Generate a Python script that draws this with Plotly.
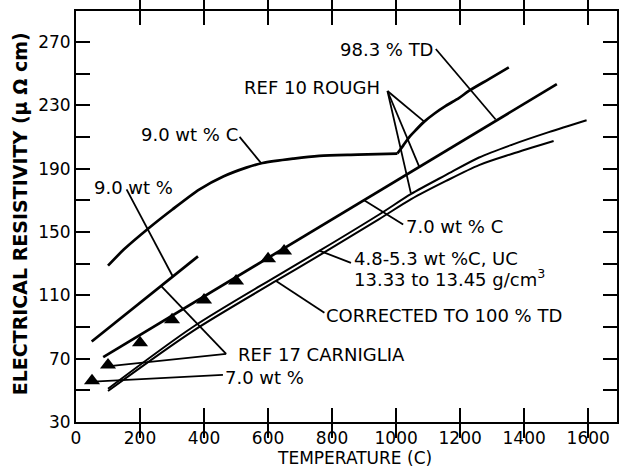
import plotly.graph_objects as go

# ---------------- data ----------------
# 9.0 wt % C curve
t_c90 = [100, 150, 225, 300, 386, 460, 532, 583, 680, 760, 880, 1004]
r_c90 = [128.7, 139, 152, 164, 176.9, 185, 190.6, 193.5, 196.3, 198, 198.8, 199.5]
# continuation above ~1000 C (REF 10 rough)
t_ref10 = [1004, 1022, 1040, 1060, 1087, 1120, 1155, 1196, 1227, 1290, 1352]
r_ref10 = [199.5, 204.5, 209.6, 214, 219.5, 224.8, 229.6, 234.5, 239, 246.5, 253.9]
# 9.0 wt % (REF 17)
t_w90 = [49, 381]
r_w90 = [80.8, 134.6]
# 7.0 wt % C, 98.3 % TD
t_c70 = [85, 1502]
r_c70 = [71, 243.3]
# REF 17 Carniglia, triangles
t_tri = [50, 100, 200, 300, 400, 500, 600, 650]
r_tri = [56, 66, 80, 94.6, 107, 119, 133, 138]
# 4.8-5.3 wt % C, UC
t_uc = [100, 365, 626, 760, 947, 1047, 1156, 1259, 1361, 1477, 1595]
r_uc = [51, 90, 122, 138, 161, 174, 186, 197, 205, 213, 220.5]
# corrected to 100 % TD
t_corr = [100, 365, 626, 760, 947, 1047, 1156, 1259, 1361, 1492]
r_corr = [49.6, 87.4, 119.2, 135.2, 158.1, 170.7, 182.2, 192.2, 199.2, 207.4]

x_ticks = [0, 200, 400, 600, 800, 1000, 1200, 1400, 1600]
y_ticks = [30, 70, 110, 150, 190, 230, 270]
y_right_ticks = [50, 70, 90, 110, 130, 150, 170, 190, 210, 230, 250, 270]

FONT = "DejaVu Sans"
INK = "black"

fig = go.Figure()

def curve(t, r, w=2.7, shape="spline"):
    fig.add_trace(go.Scatter(x=t, y=r, mode="lines", line=dict(color=INK, width=w, shape=shape, smoothing=0.8),
                             showlegend=False, hoverinfo="skip"))

curve(t_c90, r_c90)
curve(t_ref10, r_ref10)
curve(t_w90, r_w90, shape="linear")
curve(t_c70, r_c70, shape="linear")
curve(t_uc, r_uc, w=2.0)
curve(t_corr, r_corr, w=2.0)
fig.add_trace(go.Scatter(x=t_tri, y=r_tri, mode="markers",
                         marker=dict(symbol="triangle-up", size=14, color=INK),
                         showlegend=False, hoverinfo="skip"))
# invisible trace to carry the right-hand tick axis
fig.add_trace(go.Scatter(x=[t_c70[0]], y=[r_c70[0]], yaxis="y2", mode="markers",
                         marker=dict(opacity=0), showlegend=False, hoverinfo="skip"))

# leader lines (annotation geometry)
leaders = [
    ((1124, 265.5), (1311, 221)),      # 98.3 % TD
    ((973, 239), (1087, 219.8)),       # REF 10 rough
    ((973, 239), (1072, 191.2)),
    ((973, 239), (1046, 174.5)),
    ((511, 210), (578, 193.5)),        # 9.0 wt % C
    ((158, 176.9), (302, 122)),        # 9.0 wt %
    ((1022, 154.7), (900, 170)),       # 7.0 wt % C
    ((859, 130.5), (760, 138.2)),      # 4.8-5.3
    ((776, 99), (625, 119.0)),         # corrected
    ((469, 73), (90, 65)),             # REF 17
    ((469, 73), (267, 115.6)),
    ((459, 59.8), (54, 55.5)),         # 7.0 wt %
]
for (x0, y0), (x1, y1) in leaders:
    fig.add_shape(type="line", xref="x", yref="y", x0=x0, y0=y0, x1=x1, y1=y1,
                  line=dict(color=INK, width=1.8))

labels = [
    ("98.3 % TD", 1122, 265.5, "right"),
    ("REF 10 ROUGH", 955, 241.4, "right"),
    ("9.0 wt % C", 511, 211.7, "right"),
    ("9.0 wt %", 50, 178, "left"),
    ("7.0 wt % C", 1024, 153.4, "left"),
    ("4.8-5.3 wt %C, UC", 862, 133.0, "left"),
    ("13.33 to 13.45 g/cm<sup>3</sup>", 862, 121.0, "left"),
    ("CORRECTED TO 100 % TD", 776, 97, "left"),
    ("REF 17 CARNIGLIA", 500, 72.4, "left"),
    ("7.0 wt %", 460, 57.9, "left"),
]
for txt, x, y, anc in labels:
    fig.add_annotation(x=x, y=y, xref="x", yref="y", text=txt, showarrow=False,
                       xanchor=anc, yanchor="middle", font=dict(family=FONT, size=18, color=INK))

# axis titles
fig.add_annotation(x=0.514, y=-0.114, xref="paper", yref="paper", text="TEMPERATURE (C)",
                   showarrow=False, xanchor="center", yanchor="bottom", borderpad=0,
                   font=dict(family=FONT, size=17, color=INK))
fig.add_annotation(x=-0.103, y=0.506, xref="paper", yref="paper",
                   text="<b>ELECTRICAL RESISTIVITY (μ Ω cm)</b>", textangle=-90,
                   showarrow=False, xanchor="center", yanchor="middle",
                   font=dict(family=FONT, size=19, color=INK))

axis_common = dict(showline=True, linecolor=INK, linewidth=2,
                   ticks="inside", ticklen=14, tickwidth=2, tickcolor=INK,
                   showgrid=False, zeroline=False,
                   tickfont=dict(family=FONT, size=17, color=INK))

fig.update_xaxes(range=[0, 1690], tickvals=x_ticks, ticktext=[str(v) for v in x_ticks],
                 mirror="allticks", **axis_common)
fig.update_layout(
    yaxis=dict(range=[30, 289.5], tickvals=y_ticks, ticktext=[str(v) for v in y_ticks],
               mirror=True,
               minor=dict(dtick=20, tick0=30, ticks="inside", ticklen=14, tickwidth=2, tickcolor=INK),
               **axis_common),
    yaxis2=dict(range=[30, 289.5], overlaying="y", side="right", anchor="x",
                tickvals=y_right_ticks, showticklabels=False,
                showline=False, ticks="inside", ticklen=14, tickwidth=2, tickcolor=INK,
                showgrid=False, zeroline=False),
)

fig.update_layout(width=621, height=469, margin=dict(l=76, r=2, t=11, b=47),
                  plot_bgcolor="white", paper_bgcolor="white", showlegend=False)

fig.write_html("out.html")
